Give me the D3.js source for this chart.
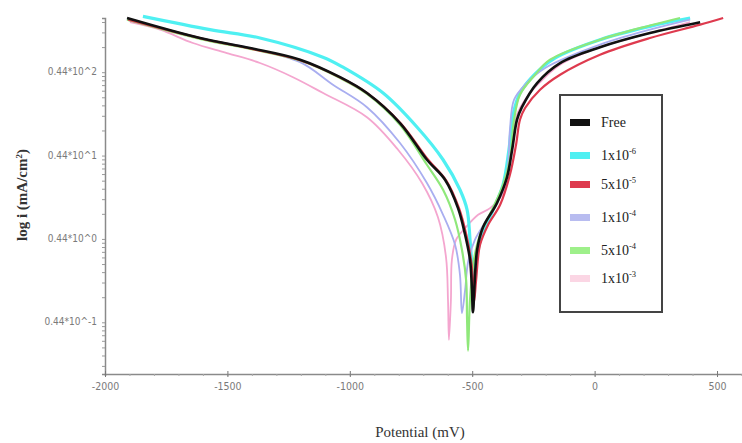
<!DOCTYPE html>
<html>
<head>
<meta charset="utf-8">
<script src="https://cdn.jsdelivr.net/npm/d3@7"></script>
<style>
  body { margin: 0; background: #fff; }
  svg { display: block; }
  .tick-lbl { font-family: "Liberation Sans Narrow", "DejaVu Sans Condensed", "Liberation Sans", sans-serif; font-stretch: condensed; fill: #7a7a7a; }
</style>
</head>
<body>
<svg id="chart" width="742" height="443"></svg>
<script>
// potential (mV), log current exponent e  (i = 0.44*10^e)
var series_names = ["Free", "1x10", "5x10", "1x10", "5x10", "1x10"];
var series_exp = ["", "-6", "-5", "-4", "-4", "-3"];
var series_colors = ["#111111", "#4ff0f2", "#de3a4e", "#a9aef0", "#8fe87a", "#f4a6cf"];
var legend_colors = ["#111111", "#4ff0f2", "#de3a4e", "#b8bcf0", "#9ef08a", "#fbd6e4"];

var free_pts = [[-1910,2.65],[-1612,2.41],[-1408,2.29],[-1203,2.15],[-1040,1.94],[-930,1.75],[-795,1.39],[-685,0.95],[-611,0.71],[-558,0.37],[-529,0.05],[-509,-0.25],[-501,-0.61],[-497,-0.88],
  [-480,-0.13],[-456,0.14],[-399,0.43],[-358,0.74],[-337,1.07],[-317,1.43],[-297,1.58],[-235,1.87],[-141,2.11],[22,2.30],[226,2.47],[431,2.60]];
var c1e6_pts = [[-1845,2.67],[-1571,2.51],[-1367,2.41],[-1110,2.18],[-1028,2.06],[-864,1.75],[-725,1.34],[-619,0.95],[-550,0.59],[-521,0.35],[-509,-0.01],[-501,-0.37],[-497,-0.67],
  [-484,-0.25],[-460,0.05],[-419,0.32],[-374,0.65],[-350,1.07],[-333,1.49],[-305,1.75],[-243,1.98],[-162,2.17],[22,2.39],[226,2.55],[390,2.65]];
var c5e5_pts = [[-1905,2.63],[-1600,2.40],[-1400,2.28],[-1200,2.14],[-1035,1.93],[-925,1.74],[-790,1.38],[-680,0.95],[-606,0.70],[-553,0.36],[-524,0.05],[-505,-0.25],[-495,-0.55],[-492,-0.75],
  [-484,-0.49],[-468,-0.07],[-435,0.17],[-386,0.41],[-346,0.77],[-321,1.13],[-305,1.43],[-284,1.57],[-223,1.79],[-141,1.97],[22,2.21],[226,2.41],[431,2.57],[525,2.65]];
var c1e4_pts = [[-1910,2.63],[-1612,2.41],[-1408,2.29],[-1203,2.12],[-1069,1.85],[-930,1.58],[-795,1.15],[-685,0.67],[-619,0.29],[-570,-0.07],[-550,-0.43],[-542,-0.89],
  [-529,-0.61],[-517,-0.28],[-489,-0.01],[-427,0.29],[-374,0.59],[-354,0.89],[-346,1.31],[-329,1.67],[-284,1.85],[-202,2.05],[22,2.33],[226,2.51],[390,2.63]];
var c5e4_pts = [[-1910,2.63],[-1612,2.40],[-1408,2.28],[-1203,2.14],[-1040,1.93],[-930,1.74],[-795,1.37],[-685,0.89],[-619,0.59],[-570,0.23],[-542,-0.13],[-525,-0.49],[-521,-0.97],[-517,-1.34],
  [-509,-0.73],[-493,-0.25],[-468,0.05],[-419,0.35],[-374,0.65],[-346,0.95],[-329,1.43],[-305,1.73],[-243,1.97],[-182,2.15],[22,2.39],[226,2.56],[349,2.65]];
var c1e3_pts = [[-1898,2.60],[-1775,2.51],[-1641,2.35],[-1502,2.23],[-1367,2.11],[-1232,1.94],[-1109,1.75],[-930,1.46],[-803,1.07],[-705,0.67],[-640,0.26],[-607,-0.22],[-599,-0.73],[-595,-1.21],
  [-587,-0.73],[-583,-0.25],[-566,-0.01],[-529,0.13],[-476,0.29],[-427,0.37],[-374,0.55],[-354,0.83],[-337,1.19],[-317,1.49],[-284,1.67],[-223,1.88],[-141,2.09],[22,2.30],[226,2.47],[390,2.60]];

var x_ticks = [-2000, -1500, -1000, -500, 0, 500];
var y_ticks = [-1, 0, 1, 2];
var y_tick_labels = ["0.44*10^-1", "0.44*10^0", "0.44*10^1", "0.44*10^2"];

var all_series = [free_pts, c1e6_pts, c5e5_pts, c1e4_pts, c5e4_pts, c1e3_pts];
var widths = [2.6, 3.2, 2.2, 1.8, 2.2, 1.8];
var draw_order = [5, 1, 3, 4, 2, 0];

var svg = d3.select("#chart");

var x = d3.scaleLinear().domain([-2000, 602]).range([105, 742]);
var y = d3.scaleLinear().domain([-1.62, 2.65]).range([374, 18]);

// y axis with log minor ticks
var minor = [];
for (var n = -2; n <= 2; n++) {
    for (var k = 1; k <= 9; k++) {
        var v = n + Math.log10(k);
        if (v >= -1.62 && v <= 2.65) minor.push(v);
    }
}
svg.append("g")
    .attr("transform", "translate(105,0)")
    .call(d3.axisLeft(y).tickValues(minor).tickSize(3).tickFormat(""))
    .call(function (g) {
        g.select(".domain").attr("stroke", "#8a8a8a").attr("stroke-width", 1.5);
        g.selectAll(".tick line").attr("stroke", "#9a9a9a");
    });

svg.selectAll(".ylbl").data(y_ticks).enter().append("text")
    .attr("class", "tick-lbl")
    .attr("x", 97)
    .attr("y", function (d) { return y(d) + 3; })
    .attr("text-anchor", "end")
    .attr("font-size", 10)
    .text(function (d, i) { return y_tick_labels[i]; });

// x axis
var xminor = d3.range(-2000, 601, 100);
svg.append("g")
    .attr("transform", "translate(0,374)")
    .call(d3.axisBottom(x).tickValues(xminor).tickSize(2).tickFormat(""))
    .call(function (g) {
        g.select(".domain").attr("stroke", "#8a8a8a").attr("stroke-width", 1.5);
        g.selectAll(".tick line").attr("stroke", "#aaa");
    });
svg.append("g")
    .attr("transform", "translate(0,374)")
    .call(d3.axisBottom(x).tickValues(x_ticks).tickSizeInner(3).tickSizeOuter(0).tickPadding(6)
        .tickFormat(function (d) { return String(d); }))
    .call(function (g) {
        g.select(".domain").remove();
        g.selectAll(".tick line").attr("stroke", "#777").attr("y1", -3);
        g.selectAll(".tick text").attr("class", "tick-lbl").attr("font-size", 10.5);
    });

// curves
var line = d3.line()
    .x(function (d) { return x(d[0]); })
    .y(function (d) { return y(d[1]); })
    .curve(d3.curveCatmullRom.alpha(0.5));

draw_order.forEach(function (i) {
    svg.append("path")
        .datum(all_series[i])
        .attr("fill", "none")
        .attr("stroke", series_colors[i])
        .attr("stroke-width", widths[i])
        .attr("stroke-linejoin", "round")
        .attr("d", line);
});

// axis titles
svg.append("text")
    .attr("x", 420).attr("y", 437)
    .attr("text-anchor", "middle")
    .attr("font-family", "Liberation Serif, serif")
    .attr("font-size", 15)
    .attr("fill", "#333")
    .text("Potential (mV)");

var yt = svg.append("text")
    .attr("transform", "translate(27,195) rotate(-90)")
    .attr("text-anchor", "middle")
    .attr("font-family", "Liberation Serif, serif")
    .attr("font-weight", "bold")
    .attr("font-size", 15)
    .attr("fill", "#333");
yt.append("tspan").text("log i (mA/cm");
yt.append("tspan").attr("font-size", 9).attr("dy", -5).text("2");
yt.append("tspan").attr("dy", 5).text(")");

// legend
var lg = svg.append("g");
lg.append("rect")
    .attr("x", 560).attr("y", 95).attr("width", 102).attr("height", 217)
    .attr("fill", "#fff").attr("stroke", "#444").attr("stroke-width", 2);
var rows = [122, 155, 184, 217, 250, 278];
series_names.forEach(function (name, i) {
    lg.append("rect")
        .attr("x", 570).attr("y", rows[i] - 3).attr("width", 20).attr("height", 7)
        .attr("fill", legend_colors[i]);
    var t = lg.append("text")
        .attr("x", 601).attr("y", rows[i] + 5)
        .attr("font-family", "Liberation Serif, serif")
        .attr("font-size", 14)
        .attr("fill", "#222");
    t.append("tspan").text(name);
    if (series_exp[i]) {
        t.append("tspan").attr("font-size", 8.5).attr("dy", -6).text(series_exp[i]);
    }
});
</script>
</body>
</html>
